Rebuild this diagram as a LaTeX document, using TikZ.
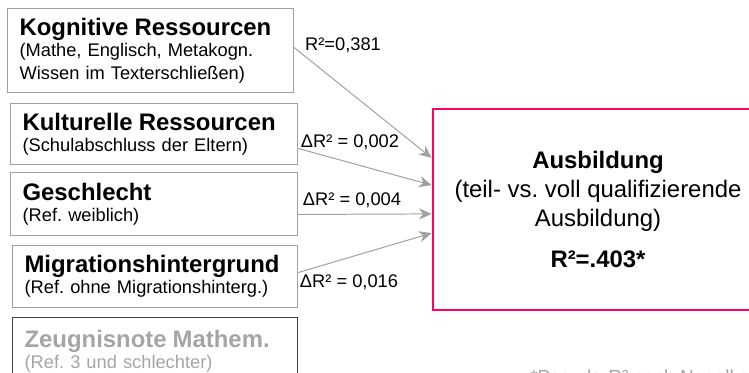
\documentclass[tikz,border=0pt]{standalone}
\usepackage{fontspec}
\setmainfont{Liberation Sans}
\usepackage{tikz}
\usetikzlibrary{arrows.meta,positioning,calc}
\usepackage{xcolor}
\definecolor{linegray}{RGB}{160,160,160}
\definecolor{fadegray}{RGB}{165,165,165}
\definecolor{hotpink}{RGB}{255,0,102}

\newcommand\titlefont{\fontsize{17}{18}\selectfont\bfseries}
\newcommand\notefont{\fontsize{13}{16.2}\selectfont}
\frenchspacing

\begin{document}
\begin{tikzpicture}[src/.style={draw=linegray, line width=0.8pt, anchor=north west, align=left, inner xsep=0.3cm, font=\notefont},
  conn/.style={draw=linegray, line width=0.7pt, -{Stealth[length=9pt, width=8pt, inset=3pt]}},
  lbl/.style={font=\fontsize{13}{15}\selectfont, inner sep=0pt}, >=Latex]
\useasboundingbox (0,0) rectangle (18.725,-9.325);
% predictor boxes
\node[src, text width=6.55cm, minimum height=2.1cm] (kog) at (0.175,-0.2) {{\titlefont Kognitive Ressourcen}\\[-1.5pt](Mathe, Englisch, Metakogn.\\Wissen im Texterschließen)};
\node[src, text width=6.575cm, minimum height=1.525cm] (kul) at (0.25,-2.575) {{\titlefont Kulturelle Ressourcen}\\[-1.5pt](Schulabschluss der Eltern)};
\node[src, text width=6.575cm, minimum height=1.575cm] (ges) at (0.25,-4.3) {{\titlefont Geschlecht}\\[-1.5pt](Ref. weiblich)};
\node[src, text width=6.525cm, minimum height=1.55cm] (mig) at (0.3,-6.125) {{\titlefont Migrationshintergrund}\\[-1.5pt](Ref. ohne Migrationshinterg.)};
\node[src, draw=black!75, text=fadegray, text width=6.525cm, minimum height=1.7cm] (zeu) at (0.3,-7.925) {{\titlefont Zeugnisnote Mathem.}\\[-1.5pt](Ref. 3 und schlechter)};
% outcome
\node[draw=hotpink, line width=2pt, minimum width=8.25cm, minimum height=5.025cm, align=center, font=\fontsize{17}{20.5}\selectfont] (aus) at (14.95,-5.2375) {{\bfseries Ausbildung}\\(teil- vs. voll qualifizierende\\Ausbildung)\\[9pt]{\bfseries R²=.403*}};
% paths
\draw[conn] ([yshift=0.075cm]kog.east) -- ([yshift=1.29cm]aus.west);
\draw[conn] ([yshift=-0.36cm]kul.east) -- ([yshift=0.61cm]aus.west);
\draw[conn] ([yshift=-0.26cm]ges.east) -- ([yshift=-0.11cm]aus.west);
\draw[conn] ([yshift=0.1cm]mig.east) -- ([yshift=-0.59cm]aus.west);
\node[lbl] (r1) at (8.575,-1.125) {R²=0,381};
\node[lbl] (d1) at (8.75,-3.55) {ΔR² = 0,002};
\node[lbl] (d2) at (8.8,-5.0) {ΔR² = 0,004};
\node[lbl] (d3) at (8.725,-7.05) {ΔR² = 0,016};
\node[anchor=base west, inner sep=0pt, text=fadegray, font=\fontsize{13.5}{15}\selectfont] (fn) at (13.25,-9.59) {*Pseudo-R² nach Nagelkerke};
\end{tikzpicture}
\end{document}
